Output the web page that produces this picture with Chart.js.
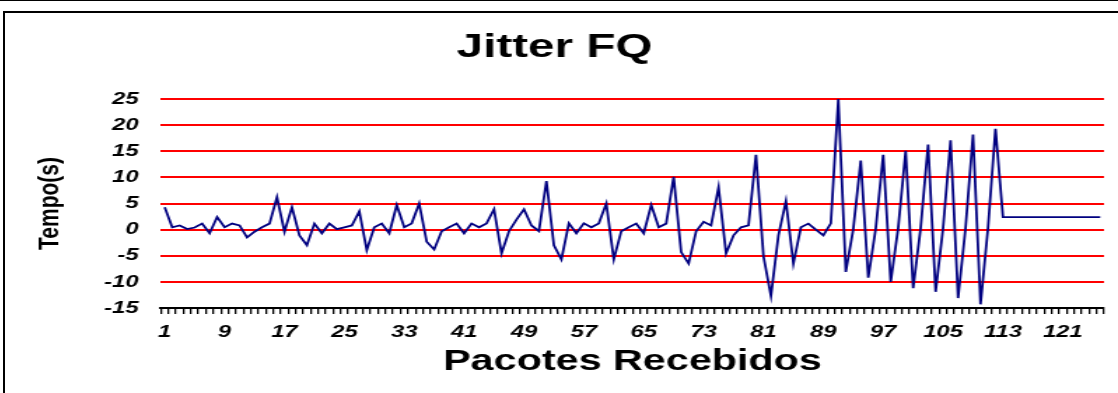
<!DOCTYPE html>
<html>
<head>
<meta charset="utf-8">
<script src="https://cdn.jsdelivr.net/npm/chart.js@4.4.0/dist/chart.umd.min.js"></script>
<style>
  html, body { margin: 0; padding: 0; background: #fff; width: 1118px; height: 393px; overflow: hidden; }
  #topline { position: absolute; left: 0; top: 0; width: 1118px; height: 1px; background: #000; }
  #frame { position: absolute; left: 3px; top: 11px; width: 1130px; height: 400px; border-left: 2px solid #000; border-top: 2px solid #000; }
  #c { position: absolute; left: 5px; top: 13px; }
</style>
</head>
<body>
<div id="topline"></div>
<div id="frame"></div>
<canvas id="c" width="795" height="380" style="width:1113px;height:380px;"></canvas>
<script>
const chartTitle = 'Jitter FQ';
const xTitle = 'Pacotes Recebidos';
const yTitle = 'Tempo(s)';

const categories = [
  1,2,3,4,5,6,7,8,9,10,11,12,13,14,15,16,17,18,19,20,
  21,22,23,24,25,26,27,28,29,30,31,32,33,34,35,36,37,38,39,40,
  41,42,43,44,45,46,47,48,49,50,51,52,53,54,55,56,57,58,59,60,
  61,62,63,64,65,66,67,68,69,70,71,72,73,74,75,76,77,78,79,80,
  81,82,83,84,85,86,87,88,89,90,91,92,93,94,95,96,97,98,99,100,
  101,102,103,104,105,106,107,108,109,110,111,112,113,114,115,116,117,118,119,120,
  121,122,123,124,125,126
];

const jitter = [
  4.3, 0.45, 0.8, 0.1, 0.4, 1.15, -0.7, 2.4, 0.45, 1.15,
  0.8, -1.5, -0.4, 0.45, 1.15, 6.2, -0.4, 4.3, -1.1, -3.0,
  1.15, -0.7, 1.15, 0.1, 0.45, 0.8, 3.5, -3.9, 0.45, 1.15,
  -0.7, 4.7, 0.45, 1.2, 5.0, -2.3, -3.8, -0.3, 0.45, 1.15,
  -0.7, 1.15, 0.45, 1.2, 3.9, -4.55, -0.3, 1.9, 3.9, 0.8,
  -0.3, 9.3, -3.0, -5.7, 1.2, -0.7, 1.2, 0.45, 1.2, 5.0,
  -5.7, -0.3, 0.45, 1.15, -0.7, 4.7, 0.45, 1.15, 10.1, -4.3,
  -6.5, -0.3, 1.5, 0.8, 8.1, -4.55, -1.1, 0.45, 0.8, 14.3,
  -5.1, -12.7, -1.1, 5.45, -6.5, 0.45, 1.15, 0.0, -1.1, 1.2,
  25.0, -8.1, 0.1, 13.2, -9.2, 0.2, 14.3, -10.0, 0.3, 15.1,
  -11.2, 0.3, 16.3, -11.9, 0.3, 17.1, -13.1, 0.3, 18.2, -14.3,
  0.3, 19.3, 2.4, 2.4, 2.4, 2.4, 2.4, 2.4, 2.4, 2.4,
  2.4, 2.4, 2.4, 2.4, 2.4, 2.4
];

const yMin = -15, yMax = 25, yStep = 5;
const xLabelEvery = 8;

const FONT = '"Liberation Sans", Arial, sans-serif';

new Chart(document.getElementById('c'), {
  type: 'line',
  data: {
    labels: categories,
    datasets: [{
      data: jitter,
      borderColor: '#000080',
      borderWidth: 1.8,
      pointRadius: 0,
      tension: 0,
      fill: false
    }]
  },
  options: {
    responsive: false,
    maintainAspectRatio: false,
    animation: false,
    devicePixelRatio: 1,
    layout: { padding: { left: 0, right: 10, top: 0, bottom: 0 } },
    plugins: {
      legend: { display: false },
      tooltip: { enabled: false },
      title: {
        display: true,
        text: chartTitle,
        color: '#000',
        font: { family: FONT, size: 34, weight: 'bold' },
        padding: { top: 14, bottom: 31.2 }
      }
    },
    scales: {
      x: {
        type: 'category',
        offset: true,
        afterFit: s => { s.height = 85; },
        border: { display: true, color: '#000', width: 2 },
        grid: {
          display: true,
          offset: true,
          drawOnChartArea: false,
          drawTicks: true,
          tickLength: 6,
          color: '#000',
          lineWidth: 1.3
        },
        ticks: {
          autoSkip: false,
          maxRotation: 0,
          minRotation: 0,
          padding: 8,
          color: '#000',
          font: { family: FONT, size: 17, weight: 'bold', style: 'italic' },
          callback: function (val, index) {
            return index % xLabelEvery === 0 ? String(categories[index]) : '';
          }
        },
        title: {
          display: true,
          text: xTitle,
          color: '#000',
          font: { family: FONT, size: 29.5, weight: 'bold' },
          padding: { top: 0, bottom: 13 }
        }
      },
      y: {
        min: yMin,
        max: yMax,
        afterFit: s => { s.width = 111.4; },
        border: { display: false },
        grid: {
          drawTicks: false,
          color: ctx => (ctx.tick && ctx.tick.value === yMin) ? 'rgba(0,0,0,0)' : '#ff0000',
          lineWidth: 2
        },
        ticks: {
          stepSize: yStep,
          padding: 16,
          color: '#000',
          font: { family: FONT, size: 17, weight: 'bold', style: 'italic' }
        },
        title: {
          display: true,
          text: yTitle,
          color: '#000',
          font: { family: FONT, size: 21, weight: 'bold' },
          padding: { top: 20, bottom: 0 }
        }
      }
    }
  }
});
</script>
</body>
</html>
